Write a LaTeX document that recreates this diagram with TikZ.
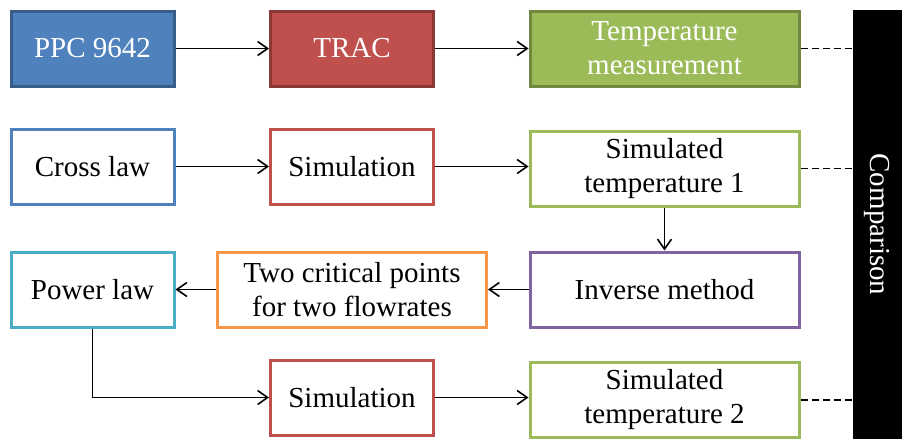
\documentclass[tikz,border=0pt]{standalone}
\usepackage{fontspec}
\setmainfont{Liberation Serif}
\usetikzlibrary{arrows.meta}
\definecolor{bfill}{HTML}{4F81BD}
\definecolor{bline}{HTML}{385D8A}
\definecolor{rfill}{HTML}{C0504D}
\definecolor{rline}{HTML}{8C3836}
\definecolor{gfill}{HTML}{9BBB59}
\definecolor{gline}{HTML}{71893F}
\definecolor{oline}{HTML}{F79646}
\definecolor{pline}{HTML}{8064A2}
\definecolor{cline}{HTML}{4BACC6}
\tikzset{
  box/.style={rectangle, line width=3pt, inner sep=0pt, align=center,
    font=\fontsize{29}{34}\selectfont, minimum height=75pt},
  narrow/.style={box, minimum width=163pt},
  wide/.style={box, minimum width=269pt},
  arr/.style={line width=1.6pt, -{Straight Barb[length=10pt,width=14pt]}},
  dsh/.style={line width=1.6pt, dash pattern=on 7pt off 4pt},
}
\begin{document}
\begin{tikzpicture}[x=1pt,y=-1pt]
\useasboundingbox (0,0) rectangle (902,439);
\node[rectangle, fill=black, minimum width=49pt, minimum height=429pt, inner sep=0pt] (bar) at (877.5,224.5) {};
\node[rotate=-90, text=white, font=\fontsize{29}{34}\selectfont] (cmp) at (877.5,224.5) {Comparison};
% row 1
\node[narrow, fill=bfill, draw=bline, text=white] (ppc) at (92.5,48.5) {PPC 9642};
\node[narrow, fill=rfill, draw=rline, text=white] (trac) at (352,48.5) {TRAC};
\node[wide, fill=gfill, draw=gline, text=white] (tm) at (664.5,48.5) {Temperature\\measurement};
% row 2
\node[narrow, fill=white, draw=bfill] (cross) at (92.5,166.5) {Cross law};
\node[narrow, fill=white, draw=rfill] (sim1) at (352,166.5) {Simulation};
\node[wide, fill=white, draw=gfill] (st1) at (664.5,168.5) {Simulated\\temperature 1};
% row 3
\node[narrow, fill=white, draw=cline] (power) at (92.5,289.5) {Power law};
\node[wide, fill=white, draw=oline] (crit) at (352,289.5) {Two critical points\\for two flowrates};
\node[wide, fill=white, draw=pline] (inv) at (664.5,289.5) {Inverse method};
% row 4
\node[narrow, fill=white, draw=rfill] (sim2) at (352,397.5) {Simulation};
\node[wide, fill=white, draw=gfill] (st2) at (664.5,400) {Simulated\\temperature 2};
% connectors
\draw[arr] (ppc.east) -- (trac.west);
\draw[arr] (trac.east) -- (tm.west);
\draw[dsh] (tm.east) -- (tm.east -| bar.west);
\draw[arr] (cross.east) -- (sim1.west);
\draw[arr] (sim1.east) -- (sim1.east -| st1.west);
\draw[dsh] (st1.east) -- (st1.east -| bar.west);
\draw[arr] (st1.south) -- (inv.north);
\draw[arr] (inv.west) -- (crit.east);
\draw[arr] (crit.west) -- (power.east);
\draw[arr] (power.south) |- (sim2.west);
\draw[arr] (sim2.east) -- (sim2.east -| st2.west);
\draw[dsh] (st2.east) -- (st2.east -| bar.west);
\end{tikzpicture}
\end{document}
